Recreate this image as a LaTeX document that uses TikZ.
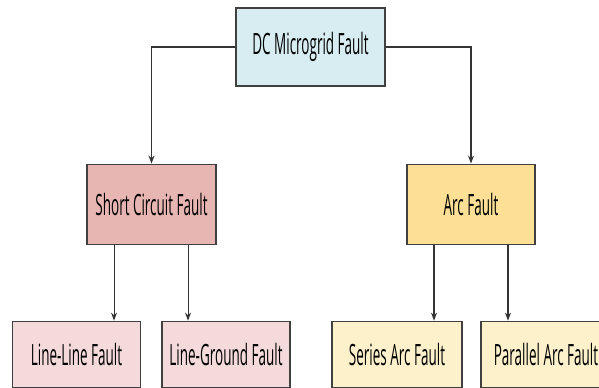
\documentclass[tikz,border=0pt]{standalone}
\usepackage{fontspec}
\setmainfont{Open Sans}[FakeStretch=0.46]
\usepackage{tikz}
\usetikzlibrary{positioning,arrows.meta}

\definecolor{topblue}{HTML}{D8EDF2}
\definecolor{shortred}{HTML}{E8B6B2}
\definecolor{arcyellow}{HTML}{FDE096}
\definecolor{lightred}{HTML}{F4DADA}
\definecolor{lightyellow}{HTML}{FCF1CA}

\begin{document}
\begin{tikzpicture}[font=\fontsize{22}{24}\selectfont,
  box/.style={draw=black!75, line width=0.8pt, inner sep=0pt, minimum width=96pt},
  topbox/.style={box, fill=topblue, minimum width=111.75pt, minimum height=58.5pt},
  shortbox/.style={box, fill=shortred, minimum width=96.75pt, minimum height=60pt},
  arcbox/.style={box, fill=arcyellow, minimum height=60pt},
  redleaf/.style={box, fill=lightred, minimum height=49.5pt},
  yellowleaf/.style={box, fill=lightyellow, minimum width=97.5pt, minimum height=49.5pt},
  link/.style={draw=black!80, line width=0.8pt, -{Stealth[length=6pt,width=4.5pt]}}]
  \useasboundingbox (0,0) rectangle (449.25pt,-290.25pt);

  % root
  \node[topbox] (dc) at (232.875pt,-35.25pt) {DC Microgrid Fault};

  % fault types
  \node[shortbox] (sc) [below=57.75pt of dc, xshift=-119.25pt] {Short Circuit Fault};
  \node[arcbox] (arc) [below=57.75pt of dc, xshift=120.375pt] {Arc Fault};

  % leaves
  \node[redleaf] (ll) [below=57pt of sc, xshift=-56.25pt] {Line-Line Fault};
  \node[redleaf] (lg) [below=57pt of sc, xshift=55.875pt] {Line-Ground Fault};
  \node[yellowleaf] (sa) [below=57pt of arc, xshift=-55.5pt] {Series Arc Fault};
  \node[yellowleaf] (pa) [below=57pt of arc, xshift=56.25pt] {Parallel Arc Fault};

  \draw[link] (dc.west) -| (sc.north);
  \draw[link] (dc.east) -| (arc.north);
  \draw[link] ([xshift=-28.1pt]sc.south) -- ([xshift=-28.1pt]sc.south |- ll.north);
  \draw[link] ([xshift=27.4pt]sc.south) -- ([xshift=27.4pt]sc.south |- lg.north);
  \draw[link] ([xshift=-27.75pt]arc.south) -- ([xshift=-27.75pt]arc.south |- sa.north);
  \draw[link] ([xshift=27.75pt]arc.south) -- ([xshift=27.75pt]arc.south |- pa.north);
\end{tikzpicture}
\end{document}
